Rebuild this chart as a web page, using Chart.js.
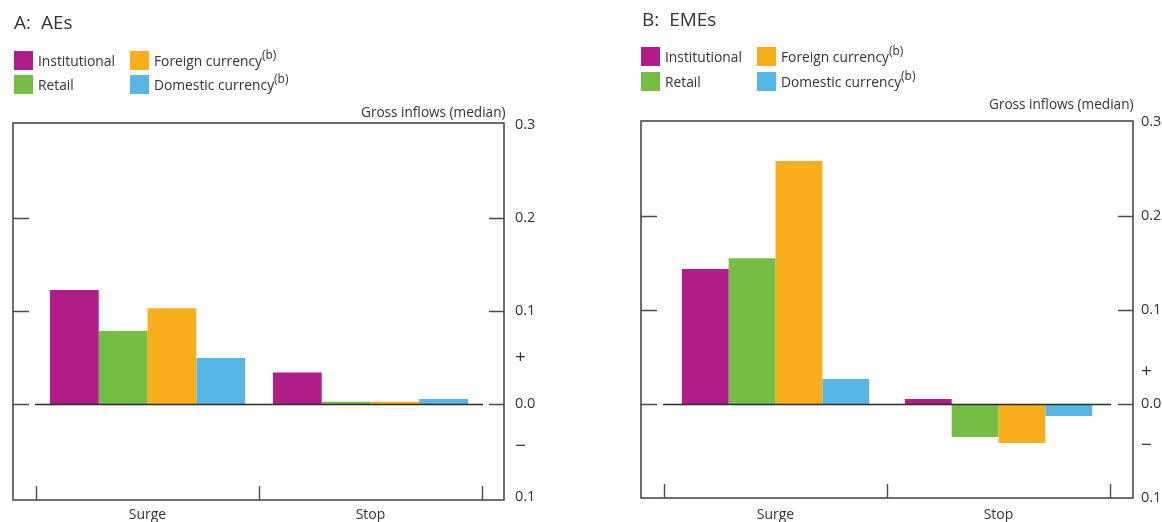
<!DOCTYPE html>
<html>
<head>
<meta charset="utf-8">
<script src="https://cdn.jsdelivr.net/npm/chart.js@4.4.1/dist/chart.umd.min.js"></script>
<style>
  html, body { margin: 0; padding: 0; background: #fff; }
  body { font-family: "Open Sans", "Noto Sans", sans-serif; color: #333; }
  #wrap { position: relative; width: 1162px; height: 522px; overflow: hidden; }
  canvas { position: absolute; top: 0; }
  .txt { position: absolute; white-space: nowrap; line-height: 1; }
  .title { font-size: 19px; }
  .leg { font-size: 13.8px; }
  .sw { position: absolute; width: 19px; height: 19px; }
  sup { font-size: 12px; vertical-align: 0; position: relative; top: -7px; }
  .cap { font-size: 13.6px; }
</style>
</head>
<body>
<div id="wrap">
  <canvas id="chartA" width="581" height="522" style="left:0"></canvas>
  <canvas id="chartB" width="581" height="522" style="left:581px"></canvas>
</div>
<script>
// Categories and series
const categories = ['Surge', 'Stop'];
const seriesNames = ['Institutional', 'Retail', 'Foreign currency', 'Domestic currency'];
const seriesNotes = ['', '', '(b)', '(b)'];
const seriesColors = ['#B01C88', '#76BE43', '#F9AE1B', '#56B7E6'];

// Panel A: advanced economies (Surge, Stop)
const aesInstitutional = [0.1225, 0.034];
const aesRetail        = [0.0785, 0.0025];
const aesForeign       = [0.103, 0.0025];
const aesDomestic      = [0.0495, 0.0055];

// Panel B: emerging market economies (Surge, Stop)
const emesInstitutional = [0.1436, 0.0053];
const emesRetail        = [0.155, -0.0351];
const emesForeign       = [0.2585, -0.0415];
const emesDomestic      = [0.0266, -0.0128];

// Right-hand axis: tick values and their printed labels
const yTickValuesA = [0.3, 0.2, 0.1, 0.05, 0, -0.046, -0.1];
const yTickValuesB = [0.3, 0.2, 0.1, 0.035, 0, -0.044, -0.1];
const yTickLabels  = ['0.3', '0.2', '0.1', '+', '0.0', '\u2212', '0.1'];
const yTickMarks   = [0.2, 0.1, 0];

const axisCaption = 'Gross inflows (median)';
const TEXT = '#333';
const FAMILY = '"Open Sans", "Noto Sans", sans-serif';

// Frame around each panel, zero line and short tick marks
const framePlugin = {
  id: 'frame',
  afterDatasetsDraw(chart, args, o) {
    const { ctx, chartArea: a, scales } = chart;
    const y = scales.y, x = scales.x;
    const L = a.left - o.l, R = a.right + o.r, T = a.top - o.t, B = a.bottom + o.b;
    ctx.save();
    // zero line
    const y0 = Math.round(y.getPixelForValue(0)) + 0.5;
    ctx.strokeStyle = '#2a2a2a';
    ctx.lineWidth = 1.3;
    ctx.beginPath();
    ctx.moveTo(a.left - 1, y0); ctx.lineTo(a.right + 1, y0);
    ctx.stroke();
    // frame
    ctx.strokeStyle = '#4a4a4a';
    ctx.lineWidth = 1.6;
    ctx.strokeRect(L, T, R - L, B - T);
    // y tick marks on both sides
    ctx.lineWidth = 1.4;
    yTickMarks.forEach(v => {
      const py = Math.round(y.getPixelForValue(v)) + 0.5;
      ctx.beginPath();
      ctx.moveTo(L, py); ctx.lineTo(L + 16, py);
      ctx.moveTo(R - 15, py); ctx.lineTo(R, py);
      ctx.stroke();
    });
    // category boundary ticks on the bottom edge
    const n = x.ticks.length;
    const step = x.width / n;
    for (let i = 0; i <= n; i++) {
      const px = Math.round(x.left + i * step) + 0.5;
      ctx.beginPath();
      ctx.moveTo(px, B); ctx.lineTo(px, B - 14);
      ctx.stroke();
    }
    ctx.restore();
  }
};

function makePanel(id, series, cfg) {
  const datasets = series.map((vals, i) => ({
    label: seriesNames[i],
    data: vals,
    backgroundColor: seriesColors[i],
    borderWidth: 0,
    barPercentage: 1,
    categoryPercentage: cfg.catPct
  }));
  const dims = { xH: 522 - cfg.area.bottom, yW: 581 - cfg.area.right };
  const noPad = (s) => { s.paddingTop = 0; s.paddingBottom = 0; s.paddingLeft = 0; s.paddingRight = 0; };
  const chart = new Chart(document.getElementById(id), {
    type: 'bar',
    data: { labels: categories, datasets },
    options: {
      responsive: false,
      animation: false,
      devicePixelRatio: 1,
      layout: { padding: { left: cfg.area.left, top: cfg.area.top, right: 0, bottom: 0 } },
      plugins: {
        legend: { display: false },
        tooltip: { enabled: false },
        frame: cfg.frame
      },
      scales: {
        x: {
          grid: { display: false, drawTicks: false },
          border: { display: false },
          ticks: { color: TEXT, font: { family: FAMILY, size: 14 }, padding: cfg.xPad },
          afterFit(s) { s.height = dims.xH; noPad(s); }
        },
        y: {
          position: 'right',
          min: -0.1,
          max: 0.3,
          grid: { display: false, drawTicks: false },
          border: { display: false },
          afterBuildTicks(s) { s.ticks = cfg.tickValues.map(v => ({ value: v })); },
          ticks: {
            color: TEXT, padding: cfg.yPad, autoSkip: false,
            font: (c) => {
              const lab = yTickLabels[cfg.tickValues.indexOf(c.tick && c.tick.value)];
              return { family: FAMILY, size: (lab === '+' || lab === '\u2212') ? 19 : 14.5 };
            },
            callback: (v) => yTickLabels[cfg.tickValues.indexOf(v)]
          },
          afterFit(s) { s.width = dims.yW; noPad(s); }
        }
      }
    },
    plugins: [framePlugin]
  });
  // settle the plot area onto the intended box
  for (let k = 0; k < 3; k++) {
    const a = chart.chartArea;
    const dl = cfg.area.left - a.left, dt = cfg.area.top - a.top;
    const db = a.bottom - cfg.area.bottom, dr = a.right - cfg.area.right;
    if (Math.abs(dl) + Math.abs(dt) + Math.abs(db) + Math.abs(dr) < 0.5) break;
    chart.options.layout.padding.left += dl;
    chart.options.layout.padding.top += dt;
    dims.xH += db;
    dims.yW += dr;
    chart.update();
  }
  return chart;
}

makePanel('chartA', [aesInstitutional, aesRetail, aesForeign, aesDomestic], {
  area: { left: 36, top: 125, right: 482, bottom: 497 },
  xPad: 10, yPad: 33, catPct: 0.875,
  tickValues: yTickValuesA,
  frame: { l: 23, r: 22, t: 2, b: 3 }
});
makePanel('chartB', [emesInstitutional, emesRetail, emesForeign, emesDomestic], {
  area: { left: 83, top: 122, right: 529, bottom: 498 },
  xPad: 9, yPad: 31, catPct: 0.84,
  tickValues: yTickValuesB,
  frame: { l: 23, r: 23, t: 1, b: 0 }
});

// Titles, legends and axis captions
const wrap = document.getElementById('wrap');
function addText(cls, html, x, yc, align) {
  const d = document.createElement('div');
  d.className = 'txt ' + cls;
  d.innerHTML = html;
  wrap.appendChild(d);
  const h = d.offsetHeight;
  d.style.top = (yc - h / 2) + 'px';
  if (align === 'right') d.style.left = (x - d.offsetWidth) + 'px';
  else d.style.left = x + 'px';
  return d;
}
function addLegend(x0, x1, y0, y1) {
  const cols = [x0, x1, x0, x1];
  const order = [0, 2, 1, 3];
  const rows = [y0, y0, y1, y1];
  order.forEach((si, k) => {
    const sw = document.createElement('div');
    sw.className = 'sw';
    sw.style.left = cols[k] + 'px';
    sw.style.top = rows[k] + 'px';
    sw.style.background = seriesColors[si];
    wrap.appendChild(sw);
    const note = seriesNotes[si] ? '<sup>' + seriesNotes[si] + '</sup>' : '';
    addText('leg', seriesNames[si] + note, cols[k] + 24, rows[k] + 10, 'left');
  });
}

addText('title', 'A:&nbsp; AEs', 14, 22);
addLegend(14, 130, 51, 75);
addText('cap', axisCaption, 505, 112, 'right');

addText('title', 'B:&nbsp; EMEs', 642, 19.5);
addLegend(641, 757, 47, 72);
addText('cap', axisCaption, 1133, 104, 'right');
</script>
</body>
</html>
